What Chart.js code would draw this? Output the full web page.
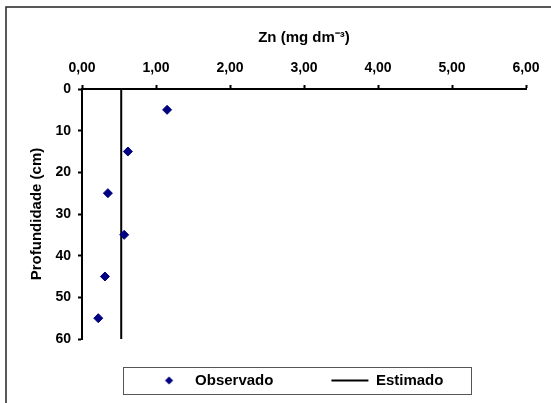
<!DOCTYPE html>
<html>
<head>
<meta charset="utf-8">
<script src="https://cdn.jsdelivr.net/npm/chart.js@4"></script>
<style>
  body { margin: 0; background: #fff; }
</style>
</head>
<body>
<canvas id="znChart" width="551" height="403"></canvas>
<script>
// Zn por profundidade: pontos observados e valor estimado
const profundidade = [5, 15, 25, 35, 45, 55];
const znObservado = [1.15, 0.62, 0.35, 0.57, 0.31, 0.22];
const profundidadeEstimado = [0, 60];
const znEstimado = [0.53, 0.53];
const xTicks = [0, 1, 2, 3, 4, 5, 6];
const yTicks = [0, 10, 20, 30, 40, 50, 60];

Chart.defaults.font.family = "'Liberation Sans', Arial, sans-serif";
Chart.defaults.font.weight = 'bold';
Chart.defaults.color = '#000';

// small navy diamond for the legend entry
const diamond = document.createElement('canvas');
diamond.width = 11;
diamond.height = 11;
(function () {
    const c = diamond.getContext('2d');
    c.fillStyle = '#000080';
    c.beginPath();
    c.moveTo(5.5, 1.5);
    c.lineTo(9.5, 5.5);
    c.lineTo(5.5, 9.5);
    c.lineTo(1.5, 5.5);
    c.closePath();
    c.fill();
})();

const frame = {
    id: 'frame',
    afterLayout(chart) {
        // legend row sits up under the plot, boxed
        const lg = chart.legend;
        lg.top -= 24;
        lg.left -= 7;
        lg.right -= 7;
    },
    beforeDraw(chart) {
        const ctx = chart.ctx;
        ctx.save();
        ctx.strokeStyle = '#222';
        ctx.lineWidth = 1.5;
        ctx.strokeRect(6, 7, chart.width, chart.height);
        ctx.restore();
    },
    afterDraw(chart) {
        const lg = chart.legend;
        const ctx = chart.ctx;
        const cx = (lg.left + lg.right) / 2;
        const cy = lg.top + lg.options.labels.padding + 7.5;
        ctx.save();
        ctx.strokeStyle = '#555';
        ctx.lineWidth = 1;
        ctx.strokeRect(Math.round(cx - 174) + 0.5, Math.round(cy - 13.5) + 0.5, 348, 27);
        ctx.restore();
    }
};

const ctxZn = document.getElementById('znChart').getContext('2d');
new Chart(ctxZn, {
    type: 'scatter',
    data: {
        datasets: [{
            label: 'Observado',
            data: profundidade.map((p, i) => ({ x: znObservado[i], y: p })),
            pointStyle: 'rectRot',
            pointRadius: 4.5,
            pointHoverRadius: 4.5,
            backgroundColor: '#000080',
            borderColor: '#000080',
            borderWidth: 1
        }, {
            label: 'Estimado',
            data: profundidadeEstimado.map((p, i) => ({ x: znEstimado[i], y: p })),
            showLine: true,
            pointStyle: 'line',
            pointRadius: 0,
            borderColor: '#000',
            backgroundColor: '#000',
            borderWidth: 2
        }]
    },
    options: {
        responsive: false,
        animation: false,
        layout: { padding: { left: 0, right: 25, top: 0, bottom: 0 } },
        plugins: {
            tooltip: { enabled: false },
            legend: {
                position: 'bottom',
                fullSize: false,
                maxHeight: 64,
                labels: {
                    usePointStyle: true,
                    pointStyleWidth: 37,
                    boxHeight: 8,
                    padding: 58,
                    color: '#000',
                    font: { size: 15, weight: 'bold' },
                    generateLabels(chart) {
                        const items = Chart.defaults.plugins.legend.labels.generateLabels(chart);
                        items[0].pointStyle = diamond;
                        return items;
                    }
                }
            }
        },
        scales: {
            x: {
                type: 'linear',
                position: 'top',
                min: 0,
                max: 6,
                afterBuildTicks: s => { s.ticks = xTicks.map(v => ({ value: v })); },
                afterFit: s => { s.height = 89; },
                ticks: {
                    padding: 8,
                    color: '#000',
                    font: { size: 14, weight: 'bold' },
                    callback: v => v.toFixed(2).replace('.', ',')
                },
                grid: { drawOnChartArea: false, tickLength: 4, tickWidth: 2, tickColor: '#000' },
                border: { color: '#000', width: 2 },
                title: {
                    display: true,
                    text: 'Zn (mg dm⁻³)',
                    color: '#000',
                    font: { size: 15, weight: 'bold' },
                    padding: { top: 29, bottom: 0 }
                }
            },
            y: {
                type: 'linear',
                position: 'left',
                reverse: true,
                min: 0,
                max: 60,
                afterBuildTicks: s => { s.ticks = yTicks.map(v => ({ value: v })); },
                afterFit: s => { s.width = 82; },
                ticks: {
                    padding: 7,
                    color: '#000',
                    font: { size: 14, weight: 'bold' }
                },
                grid: { drawOnChartArea: false, tickLength: 4, tickWidth: 2, tickColor: '#000' },
                border: { color: '#000', width: 2 },
                title: {
                    display: true,
                    text: 'Profundidade (cm)',
                    color: '#000',
                    font: { size: 15, weight: 'bold' },
                    padding: { top: 28, bottom: 0 }
                }
            }
        }
    },
    plugins: [frame]
});
</script>
</body>
</html>
